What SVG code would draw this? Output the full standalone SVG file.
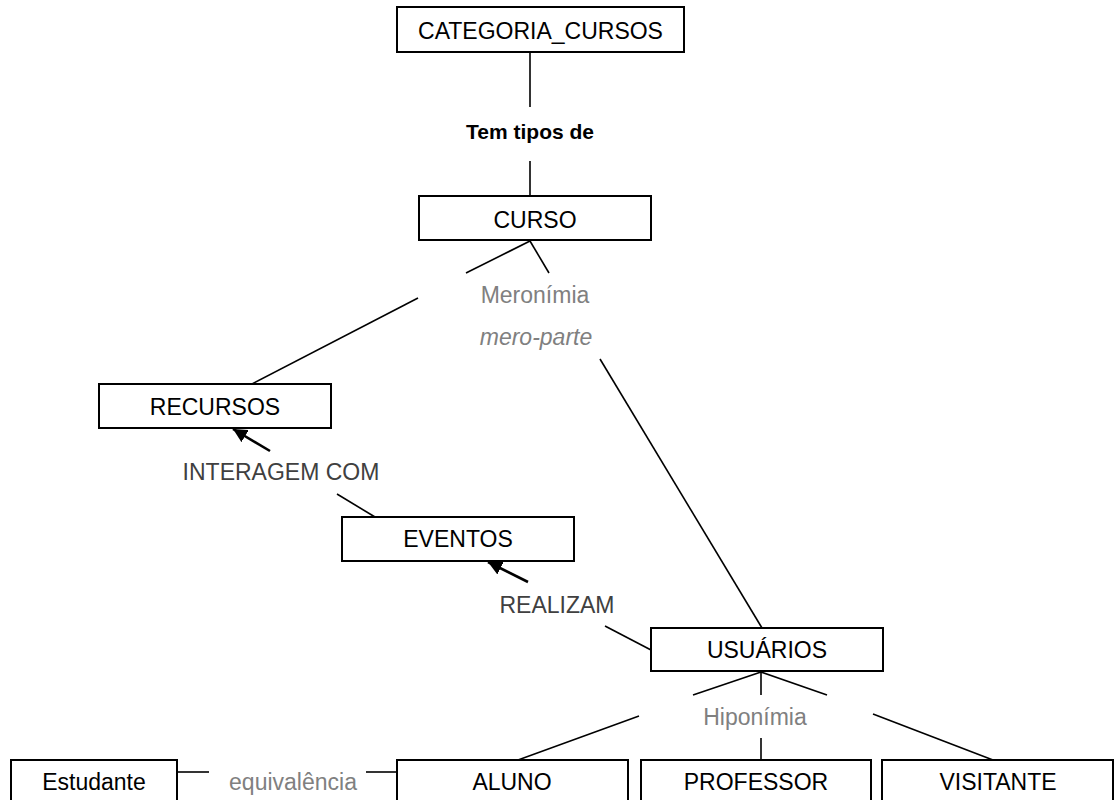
<svg xmlns="http://www.w3.org/2000/svg" width="1114" height="800" viewBox="0 0 1114 800">
  <style>
    .box { fill: #ffffff; stroke: #000000; stroke-width: 2; }
    .lbl { font-family: "Liberation Sans", Arial, sans-serif; font-size: 23px; fill: #000000; text-anchor: middle; }
    .rel { font-family: "Liberation Sans", Arial, sans-serif; font-size: 23px; fill: #808080; text-anchor: middle; }
    .verb { font-family: "Liberation Sans", Arial, sans-serif; font-size: 23px; fill: #404040; text-anchor: middle; }
    .bold { font-family: "Liberation Sans", Arial, sans-serif; font-size: 21px; font-weight: bold; fill: #000000; text-anchor: middle; }
    .ln { stroke: #000000; stroke-width: 1.6; fill: none; }
    .arr { stroke: #000000; stroke-width: 2.6; fill: none; }
  </style>
  <defs>
    <marker id="head" markerUnits="userSpaceOnUse" markerWidth="16" markerHeight="14" refX="14" refY="7" orient="auto">
      <path d="M0,0 L14,7 L0,14 Z" fill="#000000"/>
    </marker>
  </defs>
  <rect width="1114" height="800" fill="#ffffff"/>

  <!-- connectors -->
  <g id="connectors">
    <line class="ln" x1="530" y1="52" x2="530" y2="107"/>
    <line class="ln" x1="530" y1="161" x2="530" y2="196"/>
    <line class="ln" x1="530" y1="241" x2="466" y2="273"/>
    <line class="ln" x1="418" y1="298" x2="252" y2="384"/>
    <line class="ln" x1="530" y1="241" x2="549" y2="273"/>
    <line class="ln" x1="600" y1="359" x2="762" y2="628"/>
    <line class="arr" x1="270" y1="451" x2="233" y2="429" marker-end="url(#head)"/>
    <line class="ln" x1="337" y1="494" x2="375" y2="517"/>
    <line class="arr" x1="528" y1="582" x2="488" y2="562" marker-end="url(#head)"/>
    <line class="ln" x1="605" y1="626" x2="651" y2="650"/>
    <line class="ln" x1="761" y1="672" x2="693" y2="695"/>
    <line class="ln" x1="761" y1="672" x2="761" y2="695"/>
    <line class="ln" x1="761" y1="672" x2="827" y2="695"/>
    <line class="ln" x1="639" y1="716" x2="518" y2="760"/>
    <line class="ln" x1="761" y1="738" x2="761" y2="760"/>
    <line class="ln" x1="873" y1="714" x2="993" y2="760"/>
    <line class="ln" x1="177" y1="772" x2="209" y2="772"/>
    <line class="ln" x1="366" y1="772" x2="397" y2="772"/>
  </g>

  <!-- relation labels -->
  <g id="labels">
    <text class="bold" x="530" y="139">Tem tipos de</text>
    <text class="rel" x="535" y="303">Meronímia</text>
    <text class="rel" x="536" y="345" font-style="italic">mero-parte</text>
    <text class="verb" x="281" y="480">INTERAGEM COM</text>
    <text class="verb" x="557" y="613">REALIZAM</text>
    <text class="rel" x="755" y="725">Hiponímia</text>
    <text class="rel" x="293" y="790">equivalência</text>
  </g>

  <g id="categoria_cursos">
    <rect class="box" x="397" y="7" width="287" height="45"/>
    <text class="lbl" x="540.5" y="39">CATEGORIA_CURSOS</text>
  </g>
  <g id="curso">
    <rect class="box" x="419" y="196" width="232" height="44"/>
    <text class="lbl" x="535" y="228">CURSO</text>
  </g>
  <g id="recursos">
    <rect class="box" x="99" y="384" width="232" height="44"/>
    <text class="lbl" x="215" y="415">RECURSOS</text>
  </g>
  <g id="eventos">
    <rect class="box" x="342" y="517" width="232" height="44"/>
    <text class="lbl" x="458" y="547">EVENTOS</text>
  </g>
  <g id="usuarios">
    <rect class="box" x="651" y="628" width="232" height="43"/>
    <text class="lbl" x="767" y="658">USUÁRIOS</text>
  </g>
  <g id="estudante">
    <rect class="box" x="11" y="760" width="166" height="50"/>
    <text class="lbl" x="94" y="790">Estudante</text>
  </g>
  <g id="aluno">
    <rect class="box" x="397" y="760" width="231" height="50"/>
    <text class="lbl" x="512" y="790">ALUNO</text>
  </g>
  <g id="professor">
    <rect class="box" x="641" y="760" width="230" height="50"/>
    <text class="lbl" x="756" y="790">PROFESSOR</text>
  </g>
  <g id="visitante">
    <rect class="box" x="882" y="760" width="231" height="50"/>
    <text class="lbl" x="998" y="790">VISITANTE</text>
  </g>
</svg>
